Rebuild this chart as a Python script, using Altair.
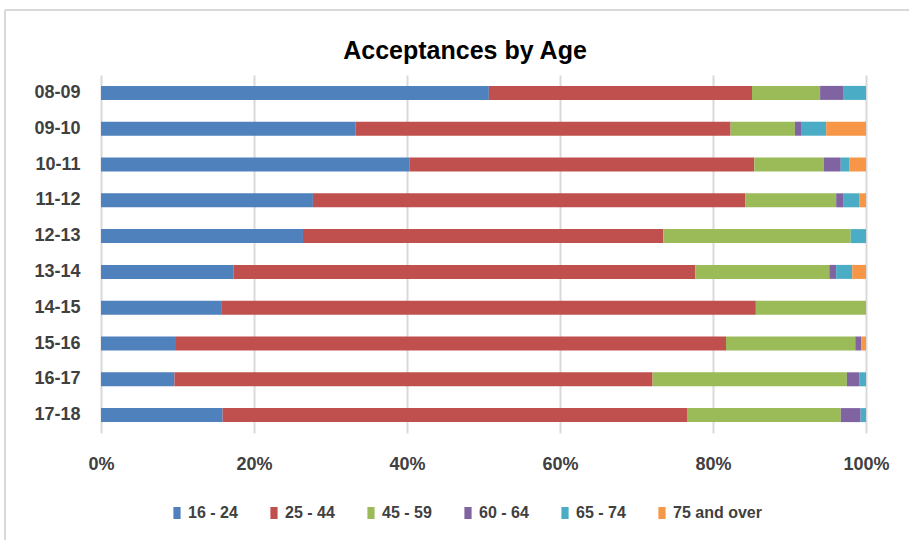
import altair as alt
import pandas as pd

years = ["08-09", "09-10", "10-11", "11-12", "12-13", "13-14", "14-15", "15-16", "16-17", "17-18"]
groups = ["16 - 24", "25 - 44", "45 - 59", "60 - 64", "65 - 74", "75 and over"]
colors = ["#4F81BD", "#C0504D", "#9BBB59", "#8064A2", "#4BACC6", "#F79646"]

age_16_24 = [50.7, 33.3, 40.3, 27.7, 26.4, 17.3, 15.8, 9.8, 9.6, 15.9]
age_25_44 = [34.4, 49.0, 45.1, 56.5, 47.1, 60.4, 69.8, 71.9, 62.5, 60.7]
age_45_59 = [8.9, 8.4, 9.1, 11.9, 24.5, 17.5, 14.4, 16.9, 25.4, 20.1]
age_60_64 = [3.0, 0.9, 2.2, 0.9, 0.0, 0.9, 0.0, 0.8, 1.6, 2.6]
age_65_74 = [3.0, 3.2, 1.1, 2.1, 2.0, 2.1, 0.0, 0.0, 0.9, 0.7]
age_75_up = [0.0, 5.2, 2.2, 0.9, 0.0, 1.8, 0.0, 0.6, 0.0, 0.0]

x_ticks = [0, 0.2, 0.4, 0.6, 0.8, 1.0]
title_text = "Acceptances by Age"

series = [age_16_24, age_25_44, age_45_59, age_60_64, age_65_74, age_75_up]
rows = []
for gi, (g, vals) in enumerate(zip(groups, series)):
    for y, v in zip(years, vals):
        rows.append({"year": y, "group": g, "order": gi, "value": v})
df = pd.DataFrame(rows)

FONT = "Liberation Sans"
TXT = "#404040"

bars = alt.Chart(df).mark_bar(size=14).encode(
    x=alt.X("value:Q", stack="normalize",
            scale=alt.Scale(domain=[0, 1], nice=False),
            axis=alt.Axis(title=None, format=".0%", values=x_ticks, domain=False,
                          ticks=False, grid=True, gridColor="#D9D9D9", gridWidth=2,
                          labelFont=FONT, labelFontSize=18, labelFontWeight="bold",
                          labelColor=TXT, labelPadding=22, labelFlush=False)),
    y=alt.Y("year:N", sort=years,
            scale=alt.Scale(paddingInner=0, paddingOuter=0),
            axis=alt.Axis(title=None, domain=False, ticks=False, grid=False,
                          labelFont=FONT, labelFontSize=18, labelFontWeight="bold",
                          labelColor=TXT, labelPadding=21)),
    color=alt.Color("group:N", sort=groups,
                    scale=alt.Scale(domain=groups, range=colors),
                    legend=alt.Legend(title=None, orient="none", direction="horizontal",
                                      legendX=68, legendY=430,
                                      symbolType="M-0.6,-1H0.6V1H-0.6Z",
                                      symbolSize=144, symbolStrokeWidth=0,
                                      labelFont=FONT, labelFontSize=16,
                                      labelFontWeight="bold", labelColor=TXT,
                                      labelOffset=3, columnPadding=28)),
    order=alt.Order("order:Q"),
)

one = alt.Data(values=[{"t": title_text}])

title = alt.Chart(one).mark_text(font=FONT, fontSize=25, fontWeight="bold", color="#000000",
                                 align="center", baseline="alphabetic").encode(
    x=alt.value(364), y=alt.value(-16), text="t:N")

frame_top = alt.Chart(one).mark_rule(color="#D9D9D9", strokeWidth=2).encode(
    x=alt.value(-96), x2=alt.value(820), y=alt.value(-65))
frame_left = alt.Chart(one).mark_rule(color="#D9D9D9", strokeWidth=2).encode(
    x=alt.value(-96), y=alt.value(-65), y2=alt.value(470))

chart = alt.layer(frame_top, frame_left, bars, title).properties(
    width=765, height=358,
    autosize=alt.AutoSizeParams(type="none"),
    padding={"left": 101, "top": 75, "right": 43, "bottom": 107},
    background="white",
).configure_view(strokeWidth=0)

chart.save("out.html", embed_options={"renderer": "svg", "actions": False})
